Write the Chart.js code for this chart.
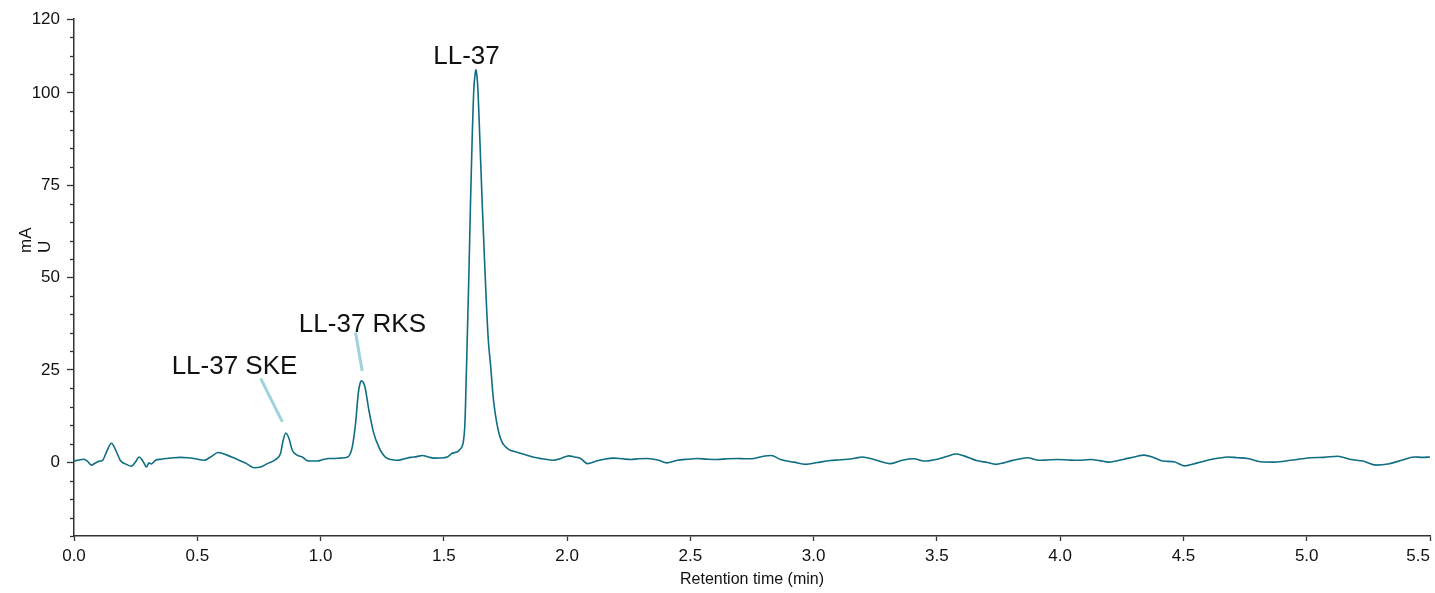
<!DOCTYPE html>
<html>
<head>
<meta charset="utf-8">
<script src="https://cdn.jsdelivr.net/npm/chart.js@4.4.1/dist/chart.umd.min.js"></script>
<style>
  html, body { margin: 0; padding: 0; background: #fff; }
  #wrap { width: 1435px; height: 593px; position: relative; }
</style>
</head>
<body>
<div id="wrap"><canvas id="chromChart"></canvas></div>
<script>
// retention time (min) and absorbance (mAU)
var times = [
  0.000, 0.020, 0.040, 0.055, 0.070, 0.085, 0.100, 0.115, 0.132, 0.152,
  0.168, 0.189, 0.213, 0.232, 0.250, 0.264, 0.281, 0.294, 0.304, 0.313,
  0.331, 0.355, 0.378, 0.405, 0.432, 0.460, 0.486, 0.527, 0.554, 0.585,
  0.621, 0.650, 0.675, 0.700, 0.729, 0.757, 0.784, 0.817, 0.838, 0.847,
  0.859, 0.872, 0.885, 0.905, 0.926, 0.946, 0.965, 0.987, 1.010, 1.034,
  1.054, 1.080, 1.108, 1.120, 1.129, 1.142, 1.153, 1.160, 1.166, 1.173,
  1.180, 1.196, 1.216, 1.237, 1.250, 1.264, 1.285, 1.311, 1.340, 1.365,
  1.390, 1.413, 1.437, 1.460, 1.500, 1.514, 1.534, 1.555, 1.565, 1.575,
  1.579, 1.585, 1.588, 1.595, 1.602, 1.608, 1.615, 1.622, 1.626, 1.630,
  1.634, 1.638, 1.646, 1.656, 1.667, 1.680, 1.690, 1.697, 1.703, 1.714,
  1.725, 1.737, 1.750, 1.764, 1.790, 1.811, 1.840, 1.865, 1.900, 1.946,
  1.975, 2.007, 2.030, 2.055, 2.082, 2.122, 2.150, 2.190, 2.225, 2.258,
  2.290, 2.325, 2.372, 2.404, 2.447, 2.490, 2.528, 2.570, 2.609, 2.650,
  2.690, 2.725, 2.758, 2.796, 2.828, 2.866, 2.920, 2.968, 3.015, 3.069,
  3.100, 3.137, 3.170, 3.198, 3.245, 3.312, 3.360, 3.407, 3.448, 3.502,
  3.542, 3.576, 3.610, 3.664, 3.705, 3.739, 3.770, 3.799, 3.830, 3.867,
  3.914, 3.950, 3.989, 4.030, 4.070, 4.124, 4.160, 4.198, 4.259, 4.300,
  4.340, 4.374, 4.415, 4.462, 4.503, 4.557, 4.611, 4.645, 4.679, 4.720,
  4.760, 4.813, 4.869, 4.935, 4.980, 5.016, 5.070, 5.125, 5.179, 5.228,
  5.282, 5.330, 5.385, 5.435, 5.470, 5.500
];
var mAU = [
  0.3, 0.6, 0.8, 0.2, -0.8, -0.3, 0.2, 0.4, 2.8, 5.1,
  3.4, 0.4, -0.6, -1.1, 0.1, 1.4, 0.1, -1.3, -0.2, -0.5,
  0.5, 0.8, 1.0, 1.2, 1.3, 1.2, 1.0, 0.5, 1.4, 2.6,
  1.9, 1.1, 0.35, -0.4, -1.5, -1.3, -0.4, 0.7, 2.4, 5.5,
  7.9, 6.4, 3.3, 1.9, 1.4, 0.4, 0.3, 0.3, 0.7, 1.0,
  1.0, 1.1, 1.3, 2.2, 4.2, 10.5, 18.6, 21.3, 22.0, 21.6,
  20.4, 14.1, 7.8, 4.0, 2.4, 1.3, 0.7, 0.5, 0.9, 1.3,
  1.5, 1.8, 1.4, 1.1, 1.2, 1.4, 2.4, 2.8, 3.4, 4.4,
  5.5, 9.6, 15.4, 33.5, 51.6, 69.6, 87.7, 101.3, 104.5, 106.3,
  104.8, 101.3, 87.7, 69.6, 51.6, 33.5, 26.0, 20.0, 15.9, 10.9,
  7.5, 5.3, 4.2, 3.4, 2.8, 2.4, 1.8, 1.3, 0.9, 0.5,
  1.0, 1.7, 1.4, 1.0, -0.4, 0.35, 0.8, 1.1, 0.9, 0.7,
  0.9, 1.0, 0.5, -0.2, 0.5, 0.8, 1.0, 0.8, 0.7, 0.9,
  1.0, 0.9, 1.0, 1.6, 1.8, 0.7, 0.0, -0.6, -0.1, 0.45,
  0.6, 0.8, 1.1, 1.4, 0.7, -0.4, 0.5, 0.9, 0.3, 0.8,
  1.6, 2.2, 1.7, 0.35, -0.1, -0.6, -0.2, 0.35, 0.8, 1.2,
  0.5, 0.6, 0.7, 0.6, 0.5, 0.7, 0.4, 0.0, 0.8, 1.4,
  1.9, 1.4, 0.3, 0.1, -1.0, -0.2, 0.7, 1.1, 1.4, 1.2,
  1.0, 0.1, 0.0, 0.5, 0.9, 1.2, 1.3, 1.6, 0.7, 0.3,
  -0.8, -0.5, 0.5, 1.4, 1.3, 1.4
];
var xTicks = [0, 0.5, 1, 1.5, 2, 2.5, 3, 3.5, 4, 4.5, 5, 5.5];
var yMajorTicks = [0, 25, 50, 75, 100, 120];

// peak labels: text, label anchor (min, mAU), leader line from/to (min, mAU)
var peakLabels = [
  { text: 'LL-37 SKE', t: 0.651, v: 24.0, line: [0.757, 22.7, 0.845, 10.9] },
  { text: 'LL-37 RKS', t: 1.170, v: 35.3, line: [1.142, 35.1, 1.169, 24.7] },
  { text: 'LL-37',     t: 1.592, v: 107.8, line: null }
];

var points = times.map(function (t, i) { return { x: t, y: mAU[i] }; });

var extras = {
  id: 'extras',
  beforeDraw: function (chart) {
    // last x label sits flush against the end of the axis
    var items = chart.scales.x.getLabelItems(chart.chartArea);
    if (items.length) {
      items[items.length - 1].options.textAlign = 'right';
    }
  },
  afterDraw: function (chart) {
    var c = chart.ctx, ys = chart.scales.y;
    var left = chart.chartArea.left;
    c.save();
    // minor y ticks
    c.strokeStyle = '#333';
    c.lineWidth = 1.3;
    for (var v = -20; v <= 120; v += 5) {
      if (yMajorTicks.indexOf(v) >= 0) continue;
      var py = Math.round(ys.getPixelForValue(v)) + 0.5;
      c.beginPath();
      c.moveTo(left - 4, py);
      c.lineTo(left, py);
      c.stroke();
    }
    // y title, two lines, rotated
    c.fillStyle = '#111';
    c.font = '17px "Liberation Sans", Arial, sans-serif';
    c.textAlign = 'left';
    c.textBaseline = 'alphabetic';
    c.translate(31, 253);
    c.rotate(-Math.PI / 2);
    c.fillText('mA', 0, 0);
    c.fillText('U', 0, 19);
    c.restore();
  },
  afterDatasetsDraw: function (chart) {
    var c = chart.ctx, xs = chart.scales.x, ys = chart.scales.y;
    c.save();
    peakLabels.forEach(function (p) {
      if (p.line) {
        c.strokeStyle = '#9ed3dc';
        c.lineWidth = 3;
        c.beginPath();
        c.moveTo(xs.getPixelForValue(p.line[0]), ys.getPixelForValue(p.line[1]));
        c.lineTo(xs.getPixelForValue(p.line[2]), ys.getPixelForValue(p.line[3]));
        c.stroke();
      }
      c.fillStyle = '#111';
      c.font = '26px "Liberation Sans", Arial, sans-serif';
      c.textAlign = 'center';
      c.textBaseline = 'alphabetic';
      c.fillText(p.text, xs.getPixelForValue(p.t), ys.getPixelForValue(p.v));
    });
    c.restore();
  }
};

var ctx = document.getElementById('chromChart').getContext('2d');
var myChart = new Chart(ctx, {
  type: 'line',
  data: {
    datasets: [{
      label: 'mAU',
      data: points,
      borderColor: '#0f6e82',
      borderWidth: 1.6,
      pointRadius: 0,
      fill: false,
      cubicInterpolationMode: 'monotone'
    }]
  },
  plugins: [extras],
  options: {
    responsive: true,
    maintainAspectRatio: false,
    animation: false,
    layout: { padding: { left: 0, right: 5, top: 19, bottom: 0 } },
    plugins: {
      legend: { display: false },
      tooltip: { enabled: false }
    },
    scales: {
      x: {
        type: 'linear',
        min: 0,
        max: 5.5,
        afterBuildTicks: function (scale) {
          scale.ticks = xTicks.map(function (v) { return { value: v }; });
        },
        afterFit: function (scale) {
          scale.height = 57;
          scale.paddingLeft = 0;
          scale.paddingRight = 0;
        },
        grid: { display: true, drawOnChartArea: false, tickLength: 5, tickColor: '#333', tickWidth: 1.3 },
        border: { display: true, color: '#333', width: 1.5 },
        ticks: {
          autoSkip: false,
          maxRotation: 0,
          padding: 5,
          color: '#111',
          font: { family: '"Liberation Sans", Arial, sans-serif', size: 17 },
          callback: function (v) { return v.toFixed(1); }
        },
        title: {
          display: true,
          text: 'Retention time (min)',
          color: '#111',
          font: { family: '"Liberation Sans", Arial, sans-serif', size: 16 },
          padding: { top: 0, bottom: 4 }
        }
      },
      y: {
        type: 'linear',
        min: -20,
        max: 120,
        afterBuildTicks: function (scale) {
          var arr = [];
          for (var v = -20; v <= 120; v += 5) arr.push({ value: v });
          scale.ticks = arr;
        },
        afterFit: function (scale) { scale.width = 74; },
        grid: {
          display: true,
          drawOnChartArea: false,
          tickLength: 7,
          tickWidth: 1.3,
          tickColor: function (c) {
            return c.tick && yMajorTicks.indexOf(c.tick.value) >= 0 ? '#333' : 'rgba(0,0,0,0)';
          }
        },
        border: { display: true, color: '#333', width: 1.5 },
        ticks: {
          autoSkip: false,
          padding: 7,
          color: '#111',
          font: { family: '"Liberation Sans", Arial, sans-serif', size: 17 },
          callback: function (v) { return yMajorTicks.indexOf(v) >= 0 ? String(v) : ''; }
        }
      }
    }
  }
});
</script>
</body>
</html>
